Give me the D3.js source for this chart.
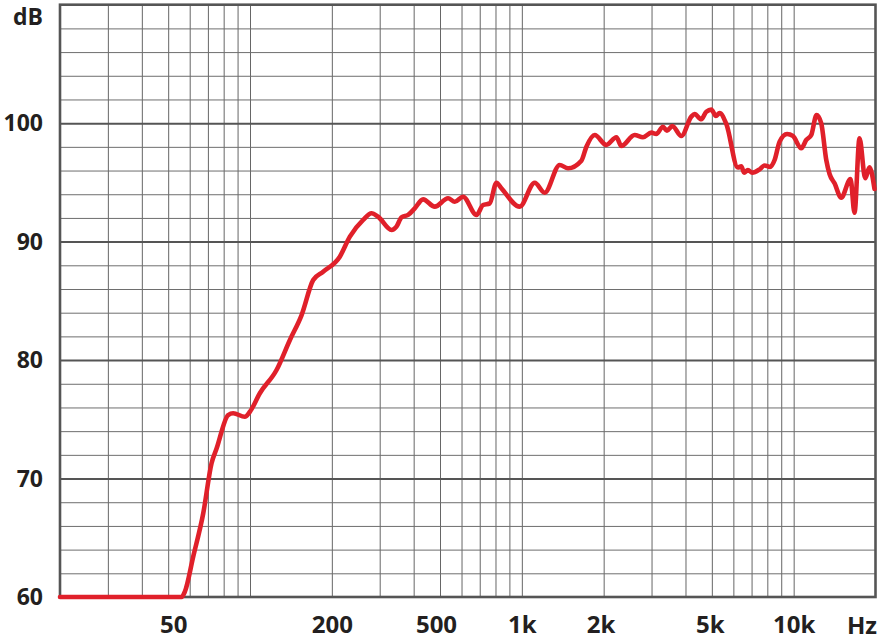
<!DOCTYPE html>
<html>
<head>
<meta charset="utf-8">
<script src="https://cdn.jsdelivr.net/npm/d3@7/dist/d3.min.js"></script>
<style>
  html, body { margin: 0; padding: 0; background: #ffffff; }
  svg { display: block; }
  text { font-family: "Open Sans", "Noto Sans", sans-serif; font-weight: 700; fill: #231f20; }
</style>
</head>
<body>
<svg id="chart" width="878" height="641"></svg>
<script>
// ---- data ----
const freqHz = [20, 56, 57.6, 61.8, 67.3, 72.2, 75.4, 83.1, 86.7, 95.7, 99.9, 108.7, 125.2, 140.2, 154.8, 170.8, 185.8, 214, 233, 260.8, 280, 296, 331.6, 345.8, 360.8, 381.6, 403.8, 433.2, 478.2, 535.4, 566.6, 607.8, 680.8, 720, 762, 806.4, 841, 982, 1115, 1214, 1378, 1479, 1656, 1728, 1854, 2046, 2228, 2323, 2600, 2790, 2995, 3124, 3304, 3418, 3578, 3862, 4202, 4320, 4574, 4772, 4978, 5176, 5340, 5652, 6234, 6416, 6570, 6786, 7044, 7492, 7816, 8188, 8508, 8876, 9456, 9932, 10666, 11126, 11606, 12138, 12632, 13180, 13552, 14140, 14958, 16186, 16742, 17466, 18330, 19010, 19830];
const splDb = [60, 60, 60.45, 63.4, 67.07, 71.29, 72.55, 75.36, 75.51, 75.22, 75.64, 77.2, 79.16, 81.7, 83.8, 86.76, 87.46, 88.73, 90.42, 91.83, 92.39, 92.1, 90.98, 91.26, 92.05, 92.25, 92.81, 93.57, 92.95, 93.66, 93.37, 93.79, 92.25, 93.09, 93.23, 94.97, 94.5, 92.95, 94.97, 94.13, 96.47, 96.19, 96.83, 98.01, 99.0, 98.16, 98.81, 98.07, 99.0, 98.81, 99.2, 99.09, 99.7, 99.36, 99.76, 98.92, 100.55, 100.77, 100.33, 100.97, 101.14, 100.6, 100.86, 99.93, 96.26, 96.36, 95.82, 96.05, 95.82, 96.1, 96.43, 96.3, 96.89, 98.44, 99.09, 98.92, 97.88, 98.58, 99.0, 100.69, 99.99, 96.89, 95.71, 94.92, 93.71, 95.29, 92.44, 98.72, 95.35, 96.27, 94.44];

const xTickValues = [50, 200, 500, 1000, 2000, 5000, 10000];
const xTickLabels = ["50", "200", "500", "1k", "2k", "5k", "10k"];
const yTickValues = [60, 70, 80, 90, 100];
const yTickLabels = ["60", "70", "80", "90", "100"];
const xUnit = "Hz";
const yUnit = "dB";
const xDomain = [20, 20000];
const yDomain = [60, 110];

// ---- styling ----
const xLabelNudge = [5, 0, -4, 0, -3, -2, 0];

// ---- layout ----
const svg = d3.select("#chart");
const L = 60, R = 875.5, T = 4.7, B = 597;
const x = d3.scaleLog().domain(xDomain).range([L, R]);
const y = d3.scaleLinear().domain(yDomain).range([B, T]);

// vertical grid (1-2-...-9 per decade)
const vGrid = [];
for (let dec = 10; dec <= 10000; dec *= 10) {
  for (let m = 1; m <= 9; m++) {
    const f = dec * m;
    if (f > xDomain[0] && f < xDomain[1]) vGrid.push(f);
  }
}
const gV = svg.append("g").attr("transform", `translate(0,${B})`)
  .call(d3.axisBottom(x).tickValues(vGrid).tickSize(-(B - T)).tickFormat(""));
gV.select(".domain").remove();
gV.selectAll(".tick line").attr("stroke", "#666666").attr("stroke-width", 1);

// horizontal grid every 2 dB
const hMinor = d3.range(62, 110, 2).filter(v => v % 10 !== 0);
const hMajor = d3.range(70, 110, 10);
const gH = svg.append("g").attr("transform", `translate(${L},0)`)
  .call(d3.axisLeft(y).tickValues(hMinor).tickSize(-(R - L)).tickFormat(""));
gH.select(".domain").remove();
gH.selectAll(".tick line").attr("stroke", "#6e6e6e").attr("stroke-width", 1);
const gH2 = svg.append("g").attr("transform", `translate(${L},0)`)
  .call(d3.axisLeft(y).tickValues(hMajor).tickSize(-(R - L)).tickFormat(""));
gH2.select(".domain").remove();
gH2.selectAll(".tick line").attr("stroke", "#555555").attr("stroke-width", 2);

// frame
svg.append("rect").attr("x", L).attr("y", T).attr("width", R - L).attr("height", B - T)
  .attr("fill", "none").attr("stroke", "#555555").attr("stroke-width", 2.6);

// curve
const pts = freqHz.map((f, i) => [f, splDb[i]]);
const line = d3.line().x(d => x(d[0])).y(d => y(d[1])).curve(d3.curveMonotoneX);
svg.append("path").datum(pts).attr("d", line)
  .attr("fill", "none").attr("stroke", "#e0202a").attr("stroke-width", 4.6)
  .attr("stroke-linejoin", "round").attr("stroke-linecap", "round");

// y labels
const gy = svg.append("g").attr("transform", `translate(${L},0)`)
  .call(d3.axisLeft(y).tickValues(yTickValues).tickSize(0).tickPadding(17)
    .tickFormat((d, i) => yTickLabels[i]));
gy.select(".domain").remove();
gy.selectAll("text").attr("font-size", 23).attr("dy", "0.33em")
  .style("font-family", "'Open Sans', sans-serif").style("font-weight", 700).attr("fill", "#231f20");

// x labels
const gx = svg.append("g").attr("transform", `translate(0,${B})`)
  .call(d3.axisBottom(x).tickValues(xTickValues).tickSize(0).tickPadding(19)
    .tickFormat((d, i) => xTickLabels[i]));
gx.select(".domain").remove();
gx.selectAll("text").attr("font-size", 24)
  .attr("dx", (d, i) => xLabelNudge[i])
  .style("font-family", "'Open Sans', sans-serif").style("font-weight", 700).attr("fill", "#231f20");

// units
svg.append("text").attr("x", L - 17).attr("y", 25).attr("text-anchor", "end")
  .attr("font-size", 23).text(yUnit);
svg.append("text").attr("x", 862).attr("y", 634).attr("text-anchor", "middle")
  .attr("font-size", 24).text(xUnit);
</script>
</body>
</html>
